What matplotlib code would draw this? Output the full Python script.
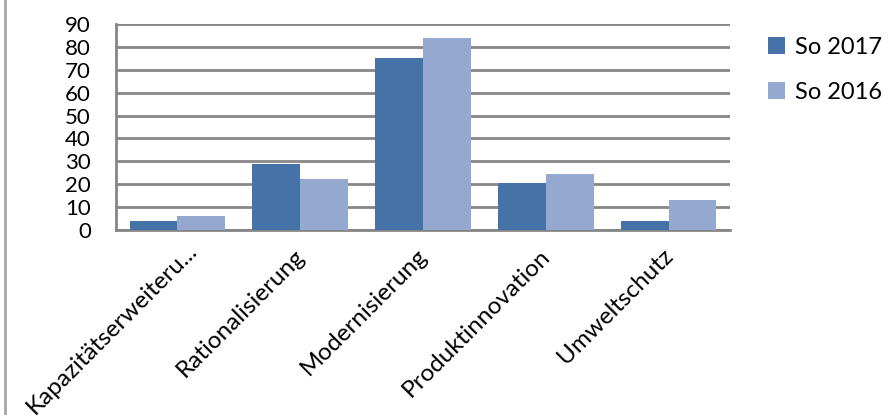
import numpy as np
import matplotlib.pyplot as plt
from matplotlib.lines import Line2D
from matplotlib.patches import Patch

plt.rcParams['font.family'] = ['Lato', 'DejaVu Sans']

categories = ['Kapazitätserweiteru...', 'Rationalisierung', 'Modernisierung',
              'Produktinnovation', 'Umweltschutz']
so_2017 = [4, 29, 75, 20.5, 4]
so_2016 = [6.3, 22.3, 84, 24.6, 13]
series_names = ['So 2017', 'So 2016']
yticks = [0, 10, 20, 30, 40, 50, 60, 70, 80, 90]

dark = '#4572a7'
light = '#95a9d0'
grid_gray = '#868686'

W, H = 894, 415
fig = plt.figure(figsize=(W / 100, H / 100), dpi=100)
ax = fig.add_axes([116 / W, (H - 230) / H, (730 - 116) / W, (230 - 24) / H])

x = np.arange(len(categories))
bw = 0.39
ax.bar(x - bw / 2, so_2017, width=bw, color=dark, edgecolor='none', zorder=3)
ax.bar(x + bw / 2, so_2016, width=bw, color=light, edgecolor='none', zorder=3)

ax.set_xlim(-0.5, len(categories) - 0.5)
ax.set_ylim(0, 90)
ax.set_yticks(yticks)
ax.set_yticklabels([str(v) for v in yticks], fontsize=16)
ax.tick_params(axis='y', length=0, pad=18)
ax.set_xticks([])
ax.yaxis.grid(True, color=grid_gray, linewidth=2, zorder=0)
ax.set_axisbelow(True)
for side in ['top', 'right']:
    ax.spines[side].set_visible(False)
for side in ['left', 'bottom']:
    ax.spines[side].set_color(grid_gray)
    ax.spines[side].set_linewidth(2)

# rotated category labels, the long first one sits a bit higher and further right
for i, name in enumerate(categories):
    dx, dy = (24, -10) if i == 0 else (8, -15)
    ax.annotate(name, xy=(i, 0), xycoords=('data', 'axes fraction'),
                xytext=(dx, dy), textcoords='offset pixels',
                rotation=45, ha='right', va='top', fontsize=17.5)

handles = [Patch(facecolor=dark), Patch(facecolor=light)]
ax.legend(handles, series_names, loc='upper left', bbox_to_anchor=(768 / W, 1 - 37 / H),
          bbox_transform=fig.transFigure, frameon=False, fontsize=17,
          borderpad=0, borderaxespad=0,
          handlelength=0.7, handleheight=0.7, handletextpad=0.45, labelspacing=1.0)

# chart frame edge on the left
fig.add_artist(Line2D([5 / W, 5 / W], [0, 1], color='#a6a6a6', linewidth=2))

fig.savefig('out.png', dpi=100)
